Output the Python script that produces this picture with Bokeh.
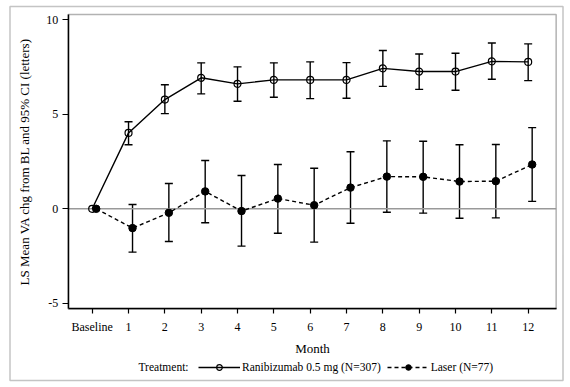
from bokeh.plotting import figure
from bokeh.models import (ColumnDataSource, Whisker, TeeHead, FixedTicker, LinearAxis,
                          Legend, LegendItem, Range1d, BoxAnnotation, Label)
from bokeh.embed import file_html
from bokeh.resources import INLINE

months = [0, 1, 2, 3, 4, 5, 6, 7, 8, 9, 10, 11, 12]
tick_labels = ["Baseline", "1", "2", "3", "4", "5", "6", "7", "8", "9", "10", "11", "12"]

rani_mean = [0.0, 4.01, 5.77, 6.92, 6.60, 6.81, 6.81, 6.81, 7.42, 7.25, 7.25, 7.79, 7.76]
rani_upper = [None, 4.60, 6.55, 7.71, 7.50, 7.71, 7.76, 7.72, 8.36, 8.18, 8.22, 8.76, 8.71]
rani_lower = [None, 3.38, 5.03, 6.07, 5.68, 5.89, 5.82, 5.84, 6.47, 6.31, 6.26, 6.84, 6.77]

laser_mean = [0.0, -1.02, -0.21, 0.92, -0.12, 0.54, 0.19, 1.12, 1.70, 1.69, 1.44, 1.46, 2.34]
laser_upper = [None, 0.23, 1.34, 2.55, 1.76, 2.34, 2.14, 3.01, 3.59, 3.57, 3.38, 3.40, 4.29]
laser_lower = [None, -2.29, -1.73, -0.74, -1.97, -1.29, -1.76, -0.76, -0.18, -0.23, -0.50, -0.48, 0.39]

y_ticks = [-5, 0, 5, 10]
legend_title = "Treatment:"
legend_labels = ["Ranibizumab 0.5 mg (N=307)", "Laser (N=77)"]

# axis extents of the plotting box
x_lo, x_hi = -0.66, 12.77
y_lo, y_hi = -5.29, 10.26

laser_offset = 0.11
FONT = "Liberation Serif"
W, H = 570, 387

rani_src = ColumnDataSource(dict(x=months, y=rani_mean))
laser_src = ColumnDataSource(dict(x=[m + laser_offset for m in months], y=laser_mean))
rani_err = ColumnDataSource(dict(x=months[1:], up=rani_upper[1:], lo=rani_lower[1:]))
laser_err = ColumnDataSource(dict(x=[m + laser_offset for m in months[1:]],
                                  up=laser_upper[1:], lo=laser_lower[1:]))

# the frame covers the whole canvas; axes are pinned to the plotting box
p = figure(width=W, height=H, output_backend="svg", toolbar_location=None,
           x_range=Range1d(-2.524, 13.165), y_range=Range1d(-9.440, 11.004),
           min_border_left=0, min_border_right=0, min_border_top=0, min_border_bottom=0,
           x_axis_location=None, y_axis_location=None)
p.grid.visible = False
p.outline_line_color = None
p.background_fill_color = "white"
p.border_fill_color = "white"

# outer border of the whole graphic
p.add_layout(BoxAnnotation(left=9.5, right=562.5, top=6, bottom=380,
                           left_units="canvas", right_units="canvas",
                           top_units="canvas", bottom_units="canvas",
                           fill_alpha=0, line_color="#3c3c3c", line_width=1.5, level="underlay"))
# plotting box
p.add_layout(BoxAnnotation(left=x_lo, right=x_hi, top=y_hi, bottom=y_lo,
                           fill_alpha=0, line_color="black", line_width=1.5, level="underlay"))

# zero reference line
p.segment(x0=[x_lo], x1=[x_hi], y0=[0], y1=[0], line_color="#999999", line_width=1.5)

for src in (rani_err, laser_err):
    w = Whisker(source=src, base="x", upper="up", lower="lo", line_color="black", line_width=1.4,
                upper_head=TeeHead(size=8, line_color="black", line_width=1.4),
                lower_head=TeeHead(size=8, line_color="black", line_width=1.4))
    p.add_layout(w)

l1 = p.line("x", "y", source=rani_src, line_color="black", line_width=1.4)
s1 = p.scatter("x", "y", source=rani_src, marker="circle", size=7, line_color="black",
               fill_alpha=0, line_width=1.2)
l2 = p.line("x", "y", source=laser_src, line_color="black", line_width=1.4, line_dash="4 3")
s2 = p.scatter("x", "y", source=laser_src, marker="circle", size=7.5, line_color="black",
               fill_color="black")

xaxis = LinearAxis(fixed_location=y_lo, bounds=(x_lo, x_hi), axis_label="Month")
yaxis = LinearAxis(fixed_location=x_lo, bounds=(y_lo, y_hi),
                   axis_label="LS Mean VA chg from BL and 95% CI (letters)")
p.add_layout(xaxis, "below")
p.add_layout(yaxis, "left")

xaxis.ticker = FixedTicker(ticks=months)
xaxis.major_label_overrides = {m: t for m, t in zip(months, tick_labels)}
yaxis.ticker = FixedTicker(ticks=y_ticks)
yaxis.major_label_overrides = {v: str(v) for v in y_ticks}
for ax in (xaxis, yaxis):
    ax.major_tick_in = 0
    ax.minor_tick_line_color = None
    ax.axis_line_color = "black"
    ax.axis_line_width = 1.5
    ax.major_tick_line_color = "black"
    ax.major_tick_line_width = 1.2
    ax.major_label_text_font = FONT
    ax.major_label_text_font_size = "12px"
    ax.major_label_text_color = "black"
    ax.axis_label_text_font = FONT
    ax.axis_label_text_font_size = "13px"
    ax.axis_label_text_font_style = "normal"
    ax.axis_label_text_color = "black"
xaxis.major_tick_out = 5
yaxis.major_tick_out = 6
xaxis.major_label_standoff = 6
yaxis.major_label_standoff = 4
xaxis.axis_label_standoff = 4
yaxis.axis_label_standoff = 12

legend = Legend(items=[LegendItem(label=legend_labels[0], renderers=[l1, s1]),
                       LegendItem(label=legend_labels[1], renderers=[l2, s2])],
                orientation="horizontal", location=(198, 13),
                label_text_font=FONT, label_text_font_size="11.5px", label_text_color="black",
                glyph_width=42, glyph_height=14, label_standoff=2, spacing=6,
                padding=0, margin=0, border_line_alpha=0, background_fill_alpha=0)
p.add_layout(legend, "center")

p.add_layout(Label(x=138, y=20.3, x_units="screen", y_units="screen", text=legend_title,
                   text_font=FONT, text_font_size="11.5px", text_align="left",
                   text_baseline="middle", text_color="black"))

open("out.html", "w").write(file_html(p, INLINE))
